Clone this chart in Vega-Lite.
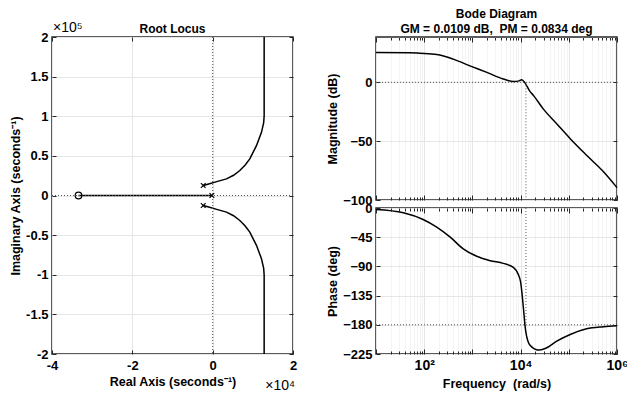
{
  "$schema": "https://vega.github.io/schema/vega-lite/v6.json",
  "background": "white",
  "padding": {"left": 8, "top": 6, "right": 10, "bottom": 0},
  "config": {
    "font": "Liberation Sans",
    "view": {"stroke": "#262626", "strokeWidth": 1.5},
    "axis": {
      "labelFont": "Liberation Sans", "labelFontWeight": "bold", "labelFontSize": 13, "labelColor": "#000",
      "titleFont": "Liberation Sans", "titleFontWeight": "bold", "titleFontSize": 12.5, "titleColor": "#000",
      "domain": false, "tickColor": "#262626", "tickSize": -4, "labelPadding": 9,
      "gridColor": "#e6e6e6", "gridWidth": 1, "labelOverlap": false, "labelFlush": false
    },
    "title": {"font": "Liberation Sans", "fontWeight": "bold", "fontSize": 12, "color": "#000"}
  },
  "datasets": {
    "locus": [
      {"branch": "real", "i": 0, "re": -33400, "im": 0},
      {"branch": "real", "i": 1, "re": -200, "im": 0},
      {"branch": "up", "i": 0, "re": -2350, "im": 12600},
      {"branch": "up", "i": 1, "re": -1000, "im": 14500},
      {"branch": "up", "i": 2, "re": 1000, "im": 17500},
      {"branch": "up", "i": 3, "re": 3450, "im": 21000},
      {"branch": "up", "i": 4, "re": 5200, "im": 25500},
      {"branch": "up", "i": 5, "re": 6760, "im": 31500},
      {"branch": "up", "i": 6, "re": 8100, "im": 38500},
      {"branch": "up", "i": 7, "re": 9240, "im": 46200},
      {"branch": "up", "i": 8, "re": 10900, "im": 62900},
      {"branch": "up", "i": 9, "re": 12150, "im": 79700},
      {"branch": "up", "i": 10, "re": 12700, "im": 92000},
      {"branch": "up", "i": 11, "re": 12820, "im": 100600},
      {"branch": "up", "i": 12, "re": 12820, "im": 200000},
      {"branch": "down", "i": 0, "re": -2350, "im": -12600},
      {"branch": "down", "i": 1, "re": -1000, "im": -14500},
      {"branch": "down", "i": 2, "re": 1000, "im": -17500},
      {"branch": "down", "i": 3, "re": 3450, "im": -21000},
      {"branch": "down", "i": 4, "re": 5200, "im": -25500},
      {"branch": "down", "i": 5, "re": 6760, "im": -31500},
      {"branch": "down", "i": 6, "re": 8100, "im": -38500},
      {"branch": "down", "i": 7, "re": 9240, "im": -46200},
      {"branch": "down", "i": 8, "re": 10900, "im": -62900},
      {"branch": "down", "i": 9, "re": 12150, "im": -79700},
      {"branch": "down", "i": 10, "re": 12700, "im": -92000},
      {"branch": "down", "i": 11, "re": 12820, "im": -100600},
      {"branch": "down", "i": 12, "re": 12820, "im": -200000}
    ],
    "roots": [
      {"kind": "pole", "re": -200, "im": 0},
      {"kind": "pole", "re": -2350, "im": 12600},
      {"kind": "pole", "re": -2350, "im": -12600},
      {"kind": "zero", "re": -33400, "im": 0}
    ],
    "mag": [
      {"w": 10, "db": 25.4}, {"w": 50, "db": 25.2}, {"w": 81, "db": 24.7}, {"w": 182, "db": 23.6},
      {"w": 400, "db": 19.7}, {"w": 890, "db": 14.0}, {"w": 2000, "db": 8.4}, {"w": 4370, "db": 2.8},
      {"w": 7080, "db": 0.6}, {"w": 9000, "db": 1.0}, {"w": 10600, "db": 2.2}, {"w": 12300, "db": -0.5},
      {"w": 15500, "db": -7.5}, {"w": 18600, "db": -11.3}, {"w": 29500, "db": -22.6}, {"w": 56000, "db": -35.2},
      {"w": 107000, "db": -47.9}, {"w": 234000, "db": -62}, {"w": 525000, "db": -76}, {"w": 1000000, "db": -89.5}
    ],
    "phase": [
      {"w": 10, "deg": -2.2}, {"w": 37, "deg": -7.3}, {"w": 95, "deg": -17.7}, {"w": 182, "deg": -29.5},
      {"w": 347, "deg": -45}, {"w": 646, "deg": -63}, {"w": 1230, "deg": -74.4}, {"w": 2340, "deg": -81.2},
      {"w": 4370, "deg": -85.3}, {"w": 7080, "deg": -91.5}, {"w": 8900, "deg": -101.9}, {"w": 10000, "deg": -114},
      {"w": 11500, "deg": -156}, {"w": 12300, "deg": -180}, {"w": 14450, "deg": -207}, {"w": 17000, "deg": -214},
      {"w": 21400, "deg": -218.5}, {"w": 23000, "deg": -219}, {"w": 32400, "deg": -216.6}, {"w": 56200, "deg": -205.2},
      {"w": 107000, "deg": -194.9}, {"w": 234000, "deg": -186.2}, {"w": 525000, "deg": -183}, {"w": 1000000, "deg": -181.5}
    ]
  },
  "spacing": 83,
  "bounds": "flush",
  "hconcat": [
    {
      "width": 241, "height": 317,
      "title": {"text": "Root Locus", "offset": 4, "dy": 19},
      "resolve": {"axis": {"x": "independent", "y": "independent"}},
      "layer": [
        {
          "data": {"name": "locus"},
          "mark": {"type": "line", "color": "#000", "strokeWidth": 1.5},
          "encoding": {
            "x": {"field": "re", "type": "quantitative",
              "scale": {"domain": [-40000, 20000], "nice": false, "zero": false},
              "axis": {"values": [-40000, -20000, 0, 20000], "tickCount": 50, "labelExpr": "datum.value/10000", "title": "Real Axis (seconds⁻¹)", "grid": true,
                "labelFontWeight": "bold", "labelOverlap": false, "labelPadding": 9, "titlePadding": 3}},
            "y": {"field": "im", "type": "quantitative",
              "scale": {"domain": [-200000, 200000], "nice": false, "zero": false},
              "axis": {"values": [-200000, -150000, -100000, -50000, 0, 50000, 100000, 150000, 200000], "tickCount": 50, "labelExpr": "datum.value/100000", "title": "Imaginary Axis (seconds⁻¹)", "grid": true,
                "labelFontWeight": "bold", "labelOverlap": false, "labelPadding": 8, "titlePadding": 3}},
            "detail": {"field": "branch"},
            "order": {"field": "i", "type": "quantitative"}
          }
        },
        {
          "data": {"values": [{}]},
          "mark": {"type": "point", "opacity": 0},
          "encoding": {
            "x": {"datum": 0, "type": "quantitative", "axis": {"orient": "top", "values": [-40000, -20000, 0, 20000], "tickCount": 50, "labels": false, "title": null, "grid": false}},
            "y": {"datum": 0, "type": "quantitative", "axis": {"orient": "right", "values": [-200000, -150000, -100000, -50000, 0, 50000, 100000, 150000, 200000], "tickCount": 50, "labels": false, "title": null, "grid": false}}
          }
        },
        {
          "data": {"values": [{}]},
          "mark": {"type": "rule", "color": "#555", "strokeDash": [1, 2], "strokeWidth": 1},
          "encoding": {"x": {"datum": 0, "type": "quantitative", "axis": null}}
        },
        {
          "data": {"values": [{}]},
          "mark": {"type": "rule", "color": "#555", "strokeDash": [1, 2], "strokeWidth": 1},
          "encoding": {"y": {"datum": 0, "type": "quantitative", "axis": null}}
        },
        {
          "data": {"name": "roots"},
          "mark": {"type": "point", "filled": false, "color": "#000", "strokeWidth": 1.2, "opacity": 1},
          "encoding": {
            "x": {"field": "re", "type": "quantitative", "axis": null},
            "y": {"field": "im", "type": "quantitative", "axis": null},
            "shape": {"field": "kind", "type": "nominal", "scale": {"domain": ["pole", "zero"], "range": ["M-1,-1L1,1M-1,1L1,-1", "circle"]}, "legend": null},
            "size": {"field": "kind", "type": "nominal", "scale": {"domain": ["pole", "zero"], "range": [22, 45]}, "legend": null}
          }
        },
        {
          "data": {"values": [{"t": "×10⁵"}]},
          "mark": {"type": "text", "align": "left", "baseline": "alphabetic", "dx": 1, "dy": -5, "fontSize": 14, "fontWeight": "normal", "color": "#000"},
          "encoding": {"x": {"datum": -40000, "type": "quantitative", "axis": null}, "y": {"datum": 200000, "type": "quantitative", "axis": null}, "text": {"field": "t"}}
        },
        {
          "data": {"values": [{"t": "×10⁴"}]},
          "mark": {"type": "text", "align": "right", "baseline": "alphabetic", "dx": 2, "dy": 36, "fontSize": 14, "fontWeight": "normal", "color": "#000"},
          "encoding": {"x": {"datum": 20000, "type": "quantitative", "axis": null}, "y": {"datum": -200000, "type": "quantitative", "axis": null}, "text": {"field": "t"}}
        }
      ]
    },
    {
      "spacing": 8,
      "bounds": "flush",
      "vconcat": [
        {
          "width": 241, "height": 163,
          "title": {"text": ["Bode Diagram", "GM = 0.0109 dB,\u00a0 PM = 0.0834 deg"], "offset": 1, "lineHeight": 15},
          "resolve": {"axis": {"x": "independent", "y": "independent"}},
          "layer": [
            {
              "data": {"name": "mag"},
              "mark": {"type": "line", "color": "#000", "strokeWidth": 1.5, "interpolate": "monotone"},
              "encoding": {
                "x": {"field": "w", "type": "quantitative",
                  "scale": {"type": "log", "domain": [10, 1000000], "nice": false},
                  "axis": {"values": [10,20,30,40,50,60,70,80,90,100,200,300,400,500,600,700,800,900,1000,2000,3000,4000,5000,6000,7000,8000,9000,10000,20000,30000,40000,50000,60000,70000,80000,90000,100000,200000,300000,400000,500000,600000,700000,800000,900000,1000000],
                    "tickCount": 100, "labels": false, "title": null, "grid": true,
                    "gridColor": {"condition": {"test": "abs(log(datum.value)/LN10 - round(log(datum.value)/LN10)) < 0.001", "value": "#e6e6e6"}, "value": "#f4f4f4"},
                    "tickSize": {"condition": {"test": "abs(log(datum.value)/LN10 - round(log(datum.value)/LN10)) < 0.001", "value": -5}, "value": -3}}},
                "y": {"field": "db", "type": "quantitative",
                  "scale": {"domain": [-100, 38.5], "nice": false, "zero": false},
                  "axis": {"values": [-100, -50, 0], "tickCount": 50, "title": "Magnitude (dB)", "grid": true,
                    "labelFontWeight": "bold", "labelOverlap": false, "labelPadding": 8, "titlePadding": 3}}
              }
            },
            {
              "data": {"values": [{}]},
              "mark": {"type": "point", "opacity": 0},
              "encoding": {
                "x": {"datum": 1000, "type": "quantitative", "axis": {"orient": "top", "values": [10,20,30,40,50,60,70,80,90,100,200,300,400,500,600,700,800,900,1000,2000,3000,4000,5000,6000,7000,8000,9000,10000,20000,30000,40000,50000,60000,70000,80000,90000,100000,200000,300000,400000,500000,600000,700000,800000,900000,1000000],
                    "tickCount": 100, "labels": false, "title": null, "grid": false,
                    "tickSize": {"condition": {"test": "abs(log(datum.value)/LN10 - round(log(datum.value)/LN10)) < 0.001", "value": -5}, "value": -3}}},
                "y": {"datum": 0, "type": "quantitative", "axis": {"orient": "right", "values": [-100, -50, 0], "tickCount": 50, "labels": false, "title": null, "grid": false}}
              }
            },
            {
              "data": {"values": [{}]},
              "mark": {"type": "rule", "color": "#555", "strokeDash": [1, 2], "strokeWidth": 1},
              "encoding": {"y": {"datum": 0, "type": "quantitative", "axis": null}}
            },
            {
              "data": {"values": [{}]},
              "mark": {"type": "rule", "color": "#555", "strokeDash": [1, 2], "strokeWidth": 1},
              "encoding": {"x": {"datum": 12900, "type": "quantitative", "axis": null}, "y": {"datum": 0, "type": "quantitative", "axis": null}, "y2": {"datum": -100}}
            }
          ]
        },
        {
          "width": 241, "height": 146,
          "resolve": {"axis": {"x": "independent", "y": "independent"}},
          "layer": [
            {
              "data": {"name": "phase"},
              "mark": {"type": "line", "color": "#000", "strokeWidth": 1.5, "interpolate": "monotone"},
              "encoding": {
                "x": {"field": "w", "type": "quantitative",
                  "scale": {"type": "log", "domain": [10, 1000000], "nice": false},
                  "axis": {"values": [10,20,30,40,50,60,70,80,90,100,200,300,400,500,600,700,800,900,1000,2000,3000,4000,5000,6000,7000,8000,9000,10000,20000,30000,40000,50000,60000,70000,80000,90000,100000,200000,300000,400000,500000,600000,700000,800000,900000,1000000],
                    "tickCount": 100,
                    "labelExpr": "datum.value == 100 ? '10²' : datum.value == 10000 ? '10⁴' : datum.value == 1000000 ? '10⁶' : ''",
                    "title": "Frequency\u00a0 (rad/s)", "grid": true, "labelFontWeight": "bold", "labelOverlap": false, "labelFontSize": 14, "labelPadding": 9, "titlePadding": 3,
                    "gridColor": {"condition": {"test": "abs(log(datum.value)/LN10 - round(log(datum.value)/LN10)) < 0.001", "value": "#e6e6e6"}, "value": "#f4f4f4"},
                    "tickSize": {"condition": {"test": "abs(log(datum.value)/LN10 - round(log(datum.value)/LN10)) < 0.001", "value": -5}, "value": -3}}},
                "y": {"field": "deg", "type": "quantitative",
                  "scale": {"domain": [-225, 0], "nice": false, "zero": false},
                  "axis": {"values": [-225, -180, -135, -90, -45, 0], "tickCount": 50, "title": "Phase (deg)", "grid": true,
                    "labelFontWeight": "bold", "labelOverlap": false, "labelPadding": 8, "titlePadding": 3}}
              }
            },
            {
              "data": {"values": [{}]},
              "mark": {"type": "point", "opacity": 0},
              "encoding": {
                "x": {"datum": 1000, "type": "quantitative", "axis": {"orient": "top", "values": [10,20,30,40,50,60,70,80,90,100,200,300,400,500,600,700,800,900,1000,2000,3000,4000,5000,6000,7000,8000,9000,10000,20000,30000,40000,50000,60000,70000,80000,90000,100000,200000,300000,400000,500000,600000,700000,800000,900000,1000000],
                    "tickCount": 100, "labels": false, "title": null, "grid": false,
                    "tickSize": {"condition": {"test": "abs(log(datum.value)/LN10 - round(log(datum.value)/LN10)) < 0.001", "value": -5}, "value": -3}}},
                "y": {"datum": -90, "type": "quantitative", "axis": {"orient": "right", "values": [-225, -180, -135, -90, -45, 0], "tickCount": 50, "labels": false, "title": null, "grid": false}}
              }
            },
            {
              "data": {"values": [{}]},
              "mark": {"type": "rule", "color": "#555", "strokeDash": [1, 2], "strokeWidth": 1},
              "encoding": {"y": {"datum": -180, "type": "quantitative", "axis": null}}
            },
            {
              "data": {"values": [{}]},
              "mark": {"type": "rule", "color": "#555", "strokeDash": [1, 2], "strokeWidth": 1},
              "encoding": {"x": {"datum": 12900, "type": "quantitative", "axis": null}, "y": {"datum": 0, "type": "quantitative", "axis": null}, "y2": {"datum": -180}}
            }
          ]
        }
      ]
    }
  ]
}
